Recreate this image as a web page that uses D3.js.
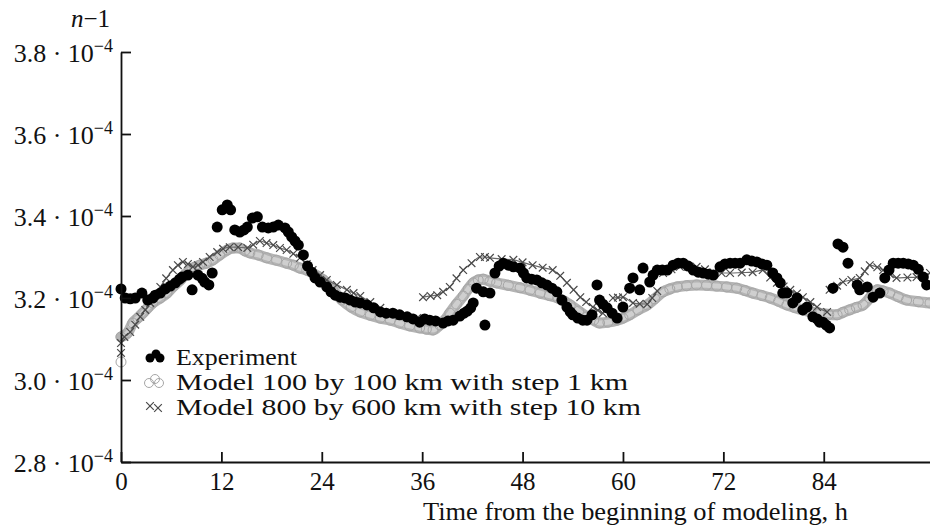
<!DOCTYPE html>
<html>
<head>
<meta charset="utf-8">
<script src="https://cdn.jsdelivr.net/npm/d3@7"></script>
<style>
  body { margin: 0; background: #fff; }
  svg { display: block; font-family: "Liberation Serif", "DejaVu Serif", serif; }
</style>
</head>
<body>
<svg id="plot" width="930" height="526"></svg>
<script>
// values of n-1 in units of 1e-4, time in hours
var xTicks = [0, 12, 24, 36, 48, 60, 72, 84];
var yTicks = [2.8, 3.0, 3.2, 3.4, 3.6, 3.8];
var seriesNames = ["Experiment", "Model 100 by 100 km with step 1 km", "Model 800 by 600 km with step 10 km"];

var experiment = [[0,3.222],[0.5,3.200],[1.1,3.198],[1.7,3.200],[2.5,3.212],[3.2,3.195],[3.8,3.200],[4.1,3.207],[4.7,3.212],[5.3,3.222],[5.9,3.229],[6.5,3.237],[7.0,3.246],[7.3,3.251],[8.0,3.256],[8.5,3.220],[9.2,3.256],[9.7,3.248],[10.0,3.239],[10.5,3.232],[10.9,3.261],[11.5,3.373],[12.1,3.415],[12.7,3.427],[13.1,3.415],[13.6,3.366],[14.2,3.361],[14.7,3.366],[15.1,3.373],[15.7,3.395],[16.3,3.398],[16.9,3.373],[17.6,3.371],[18.2,3.373],[18.8,3.378],[19.6,3.371],[20.0,3.361],[20.4,3.349],[20.8,3.339],[21.2,3.329],[21.8,3.305],[22.3,3.278],[22.8,3.263],[23.2,3.249],[23.8,3.239],[24.6,3.227],[25.1,3.215],[25.6,3.207],[26.2,3.202],[26.8,3.200],[27.4,3.195],[28.0,3.190],[28.6,3.188],[29.4,3.183],[30.2,3.176],[31.0,3.166],[31.7,3.163],[32.5,3.163],[33.3,3.159],[34.2,3.154],[34.9,3.149],[35.7,3.141],[36.3,3.149],[36.9,3.146],[37.6,3.144],[38.5,3.139],[39.1,3.144],[39.7,3.146],[40.5,3.156],[41.0,3.163],[41.4,3.168],[41.8,3.176],[42.1,3.188],[42.5,3.224],[43.3,3.215],[43.5,3.134],[44.1,3.212],[44.7,3.261],[45.2,3.278],[45.7,3.285],[46.3,3.280],[46.9,3.276],[47.7,3.273],[48.1,3.261],[48.5,3.249],[49.1,3.246],[49.7,3.244],[50.3,3.237],[50.9,3.232],[51.5,3.224],[52.1,3.215],[52.7,3.195],[53.3,3.178],[53.7,3.166],[54.0,3.159],[54.6,3.151],[55.2,3.146],[55.7,3.146],[56.3,3.159],[56.9,3.232],[57.2,3.195],[57.6,3.185],[58.1,3.176],[58.7,3.163],[59.3,3.151],[60.0,3.178],[60.8,3.224],[61.2,3.249],[62.0,3.220],[62.4,3.273],[63.2,3.239],[63.6,3.256],[64.1,3.268],[64.7,3.268],[65.3,3.268],[66.0,3.280],[66.6,3.285],[67.2,3.285],[67.8,3.278],[68.4,3.268],[69.0,3.263],[69.6,3.261],[70.2,3.258],[70.8,3.256],[71.6,3.276],[72.2,3.283],[72.8,3.285],[73.4,3.285],[74.0,3.285],[74.8,3.293],[75.4,3.290],[76.0,3.288],[76.6,3.283],[77.2,3.280],[77.9,3.261],[78.4,3.249],[78.8,3.237],[79.1,3.212],[79.6,3.212],[80.3,3.188],[80.8,3.200],[81.5,3.171],[82.0,3.178],[82.7,3.154],[83.2,3.149],[83.5,3.141],[83.9,3.141],[84.3,3.134],[84.7,3.127],[85.1,3.224],[85.7,3.332],[86.3,3.324],[86.9,3.285],[88.0,3.232],[88.3,3.220],[89.2,3.227],[89.9,3.202],[90.7,3.212],[91.3,3.249],[91.8,3.268],[92.3,3.285],[92.9,3.285],[93.5,3.285],[94.1,3.283],[94.7,3.280],[95.3,3.270],[95.9,3.251],[96.3,3.232]];

var modelFine = [[0,3.044],[0,3.105],[0.8,3.115],[1.4,3.139],[2.0,3.151],[2.6,3.163],[3.2,3.176],[3.8,3.188],[4.7,3.200],[5.5,3.212],[6.3,3.229],[7.1,3.244],[7.6,3.256],[8.2,3.268],[8.8,3.275],[9.4,3.280],[10.2,3.285],[11.0,3.293],[11.8,3.305],[12.7,3.317],[13.4,3.322],[14.2,3.322],[14.8,3.315],[15.4,3.310],[16.4,3.305],[17.4,3.298],[18.6,3.292],[19.8,3.285],[20.6,3.280],[21.4,3.273],[22.2,3.268],[22.9,3.261],[23.6,3.252],[24.2,3.244],[25.3,3.220],[26.4,3.195],[27.5,3.178],[28.6,3.166],[29.8,3.158],[31.0,3.151],[32.2,3.146],[33.3,3.139],[34.5,3.132],[35.7,3.127],[36.5,3.124],[37.3,3.122],[38.1,3.134],[38.7,3.146],[39.3,3.163],[40.1,3.185],[40.9,3.205],[41.5,3.222],[42.1,3.237],[42.7,3.244],[43.3,3.246],[44.1,3.241],[44.9,3.237],[46.3,3.231],[47.7,3.225],[48.9,3.219],[50.1,3.212],[51.2,3.206],[52.2,3.200],[53.0,3.192],[53.7,3.183],[54.7,3.168],[55.7,3.154],[56.5,3.146],[57.2,3.139],[58.2,3.141],[59.3,3.146],[60.0,3.151],[60.8,3.159],[61.8,3.171],[62.9,3.183],[63.8,3.198],[64.8,3.215],[65.6,3.222],[66.5,3.227],[67.6,3.230],[68.8,3.232],[70.0,3.231],[71.2,3.229],[72.4,3.227],[73.6,3.224],[74.6,3.218],[75.5,3.212],[76.6,3.206],[77.6,3.200],[78.6,3.192],[79.6,3.183],[80.5,3.177],[81.5,3.171],[82.5,3.166],[83.5,3.163],[84.6,3.160],[85.6,3.159],[86.3,3.165],[87.1,3.171],[87.9,3.177],[88.7,3.183],[89.5,3.200],[90.4,3.220],[91.1,3.217],[91.9,3.212],[92.9,3.203],[93.9,3.195],[95.3,3.191],[96.7,3.188]];

var modelCoarse = [[0,3.066],[0,3.090],[0.4,3.105],[1.1,3.117],[1.7,3.135],[2.3,3.154],[2.9,3.171],[3.5,3.188],[4.1,3.207],[4.7,3.227],[5.4,3.248],[6.2,3.268],[6.8,3.280],[7.4,3.288],[8.0,3.283],[8.6,3.276],[9.2,3.280],[9.8,3.288],[10.6,3.300],[11.5,3.312],[12.2,3.320],[13.0,3.324],[14.0,3.324],[15.1,3.322],[15.8,3.330],[16.6,3.339],[17.4,3.334],[18.2,3.329],[19.0,3.322],[19.8,3.317],[20.6,3.308],[21.4,3.298],[22.2,3.283],[22.9,3.268],[23.8,3.256],[24.6,3.244],[25.8,3.232],[27.0,3.220],[27.8,3.212],[28.6,3.205],[29.8,3.190],[31.0,3.176],[32.1,3.166],[33.3,3.156],[34.3,3.152],[35.4,3.151],[36.1,3.202],[37.0,3.205],[37.8,3.207],[38.5,3.215],[39.3,3.227],[40.1,3.248],[40.9,3.268],[41.9,3.285],[42.9,3.300],[43.5,3.300],[44.1,3.298],[45.5,3.295],[46.9,3.293],[48.0,3.287],[49.2,3.280],[50.4,3.274],[51.6,3.268],[52.5,3.254],[53.3,3.237],[54.1,3.220],[54.9,3.202],[55.6,3.190],[56.4,3.178],[57.0,3.170],[57.6,3.163],[58.8,3.200],[59.4,3.201],[60.0,3.202],[61.2,3.188],[62.0,3.186],[62.9,3.185],[63.5,3.200],[64.1,3.217],[64.8,3.261],[65.8,3.270],[66.8,3.276],[67.8,3.276],[68.8,3.276],[69.8,3.270],[70.8,3.263],[71.8,3.261],[72.8,3.261],[74.2,3.262],[75.5,3.263],[76.7,3.268],[77.6,3.250],[78.4,3.237],[79.2,3.228],[80.0,3.220],[80.8,3.211],[81.5,3.202],[82.4,3.190],[83.2,3.178],[84.4,3.166],[84.7,3.220],[85.6,3.230],[86.3,3.239],[87.3,3.244],[88.3,3.249],[88.9,3.265],[89.5,3.280],[90.4,3.275],[91.1,3.268],[91.9,3.258],[92.7,3.249],[94.0,3.250],[95.1,3.251],[96.7,3.261]];

var svg = d3.select("#plot");
var fontSize = 25;

var xScale = d3.scaleLinear().domain([0, 96.7]).range([121, 930]);
var yScale = d3.scaleLinear().domain([2.8, 3.8]).range([462, 52]);

var fmt = d3.format(".1f");

// model 100x100: grey band of open circles
var bandLine = d3.line()
    .x(function(d){ return xScale(d[0]); })
    .y(function(d){ return yScale(d[1]); })
    .curve(d3.curveMonotoneX);

svg.append("path")
    .datum(modelFine.slice(1))
    .attr("fill", "none")
    .attr("stroke", "#b4b4b4")
    .attr("stroke-width", 11)
    .attr("stroke-linecap", "round")
    .attr("d", bandLine);

svg.append("path")
    .datum(modelFine.slice(1))
    .attr("fill", "none")
    .attr("stroke", "#cfcfcf")
    .attr("stroke-width", 5)
    .attr("d", bandLine);

svg.append("g").selectAll("circle")
    .data(modelFine)
    .enter()
    .append("circle")
    .attr("cx", function(d){ return xScale(d[0]); })
    .attr("cy", function(d){ return yScale(d[1]); })
    .attr("r", 5)
    .attr("fill", "none")
    .attr("stroke", "#a6a6a6")
    .attr("stroke-width", 1);

// model 800x600: crosses on a thin line, broken where the series jumps
var pieces = [[]];
modelCoarse.slice(1).forEach(function(d, i, arr){
    if (i > 0 && Math.abs(d[1] - arr[i - 1][1]) > 0.03) pieces.push([]);
    pieces[pieces.length - 1].push(d);
});

svg.append("g").selectAll("path")
    .data(pieces)
    .enter()
    .append("path")
    .attr("fill", "none")
    .attr("stroke", "#6a6a6a")
    .attr("stroke-width", 1.2)
    .attr("d", bandLine);

var cross = d3.symbol().type(d3.symbolX).size(40);
svg.append("g").selectAll("path")
    .data(modelCoarse)
    .enter()
    .append("path")
    .attr("transform", function(d){ return "translate(" + xScale(d[0]) + "," + yScale(d[1]) + ")"; })
    .attr("d", cross)
    .attr("fill", "none")
    .attr("stroke", "#4a4a4a")
    .attr("stroke-width", 1.2);

// experiment: black dots
svg.append("g").selectAll("circle")
    .data(experiment)
    .enter()
    .append("circle")
    .attr("cx", function(d){ return xScale(d[0]); })
    .attr("cy", function(d){ return yScale(d[1]); })
    .attr("r", 5.5)
    .attr("fill", "#000");

// axes
var xAxis = svg.append("g")
    .attr("transform", "translate(0," + yScale(2.8) + ")")
    .call(d3.axisBottom(xScale).tickValues(xTicks).tickSizeInner(-10).tickSizeOuter(0).tickPadding(10));
xAxis.selectAll("text")
    .attr("font-size", fontSize)
    .attr("font-family", "Liberation Serif")
    .attr("fill", "#111");

var yAxis = svg.append("g")
    .attr("transform", "translate(" + xScale(0) + ",0)")
    .call(d3.axisLeft(yScale).tickValues(yTicks).tickSizeInner(-10).tickSizeOuter(0));
yAxis.selectAll(".tick text").remove();
yAxis.selectAll(".tick").append("text")
    .attr("x", -8)
    .attr("y", 9)
    .attr("text-anchor", "end")
    .attr("font-size", 26)
    .attr("font-family", "Liberation Serif")
    .attr("fill", "#111")
    .each(function(d){
        var t = d3.select(this);
        t.append("tspan").text(fmt(d) + " \u00b7 10");
        t.append("tspan").attr("dy", -10).attr("font-size", 18).text("\u22124");
    });

svg.selectAll(".domain, .tick line")
    .attr("stroke", "#111")
    .attr("stroke-width", 1.8);

// axis titles
var yTitle = svg.append("text")
    .attr("x", 110)
    .attr("y", 27)
    .attr("text-anchor", "end")
    .attr("font-size", fontSize)
    .attr("fill", "#111");
yTitle.append("tspan").attr("font-style", "italic").text("n");
yTitle.append("tspan").text("\u22121");

svg.append("text")
    .attr("x", 848)
    .attr("y", 520)
    .attr("text-anchor", "end")
    .attr("font-size", 26)
    .attr("textLength", 425)
    .attr("lengthAdjust", "spacingAndGlyphs")
    .attr("fill", "#111")
    .text("Time from the beginning of modeling, h");

// legend
var legend = svg.append("g");
var rowY = [357, 382, 407];
var rowWidth = [121, 452, 465];

legend.selectAll("text")
    .data(seriesNames)
    .enter()
    .append("text")
    .attr("x", 176)
    .attr("y", function(d, i){ return rowY[i] + 8; })
    .attr("font-size", 22.5)
    .attr("textLength", function(d, i){ return rowWidth[i]; })
    .attr("lengthAdjust", "spacingAndGlyphs")
    .attr("fill", "#111")
    .text(function(d){ return d; });

var offsets = [[-5, 1], [1, -3], [5, 1]];
legend.append("g").selectAll("circle")
    .data(offsets)
    .enter()
    .append("circle")
    .attr("cx", function(d){ return 155 + d[0]; })
    .attr("cy", function(d){ return rowY[0] + d[1]; })
    .attr("r", 4.5)
    .attr("fill", "#000");

legend.append("g").selectAll("circle")
    .data(offsets)
    .enter()
    .append("circle")
    .attr("cx", function(d){ return 154 + d[0]; })
    .attr("cy", function(d){ return rowY[1] + d[1]; })
    .attr("r", 4.5)
    .attr("fill", "none")
    .attr("stroke", "#a6a6a6");

legend.append("g").selectAll("path")
    .data([[-4, -1], [4, 1]])
    .enter()
    .append("path")
    .attr("transform", function(d){ return "translate(" + (154 + d[0]) + "," + (rowY[2] + d[1]) + ")"; })
    .attr("d", cross)
    .attr("fill", "none")
    .attr("stroke", "#4a4a4a")
    .attr("stroke-width", 1.2);
</script>
</body>
</html>
